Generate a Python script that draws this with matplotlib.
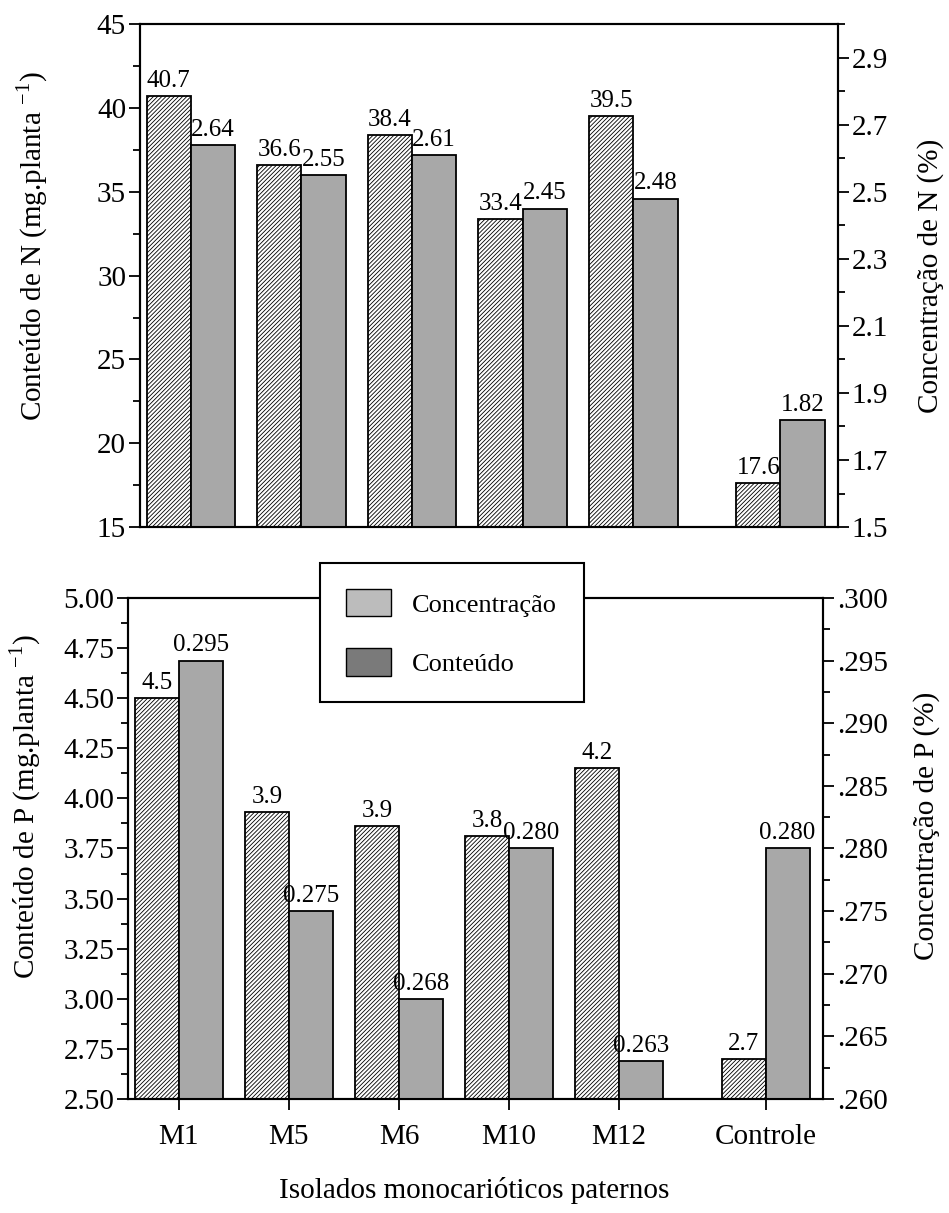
import matplotlib
matplotlib.use('Agg')
import matplotlib.pyplot as plt
from matplotlib.ticker import FixedLocator, FuncFormatter
from matplotlib.patches import Patch

plt.rcParams['font.family'] = ['Liberation Serif', 'DejaVu Serif']
plt.rcParams['mathtext.fontset'] = 'stix'
plt.rcParams['hatch.linewidth'] = 0.6

# ---------------- data ----------------
categories = ['M1', 'M5', 'M6', 'M10', 'M12', 'Controle']
x_pos = [0, 1, 2, 3, 4, 5.33]

n_content = [40.7, 36.6, 38.4, 33.4, 39.5, 17.6]          # mg/planta (left axis)
n_content_labels = ['40.7', '36.6', '38.4', '33.4', '39.5', '17.6']
n_conc = [2.64, 2.55, 2.61, 2.45, 2.48, 1.82]             # % (right axis)
n_conc_labels = ['2.64', '2.55', '2.61', '2.45', '2.48', '1.82']

p_content = [4.50, 3.93, 3.86, 3.81, 4.15, 2.70]          # mg/planta (left axis)
p_content_labels = ['4.5', '3.9', '3.9', '3.8', '4.2', '2.7']
p_conc = [0.295, 0.275, 0.268, 0.280, 0.263, 0.280]       # % (right axis)
p_conc_labels = ['0.295', '0.275', '0.268', '0.280', '0.263', '0.280']

n_left_ticks = [15, 20, 25, 30, 35, 40, 45]
n_right_ticks = [1.5, 1.7, 1.9, 2.1, 2.3, 2.5, 2.7, 2.9]
p_left_ticks = [2.50, 2.75, 3.00, 3.25, 3.50, 3.75, 4.00, 4.25, 4.50, 4.75, 5.00]
p_right_ticks = [0.260, 0.265, 0.270, 0.275, 0.280, 0.285, 0.290, 0.295, 0.300]

legend_labels = ['Concentração', 'Conteúdo']
xlabel = 'Isolados monocarióticos paternos'

# ---------------- style ----------------
BW = 0.4
GRAY = '#a8a8a8'
TICK_FS = 21
LAB_FS = 21
VAL_FS = 18

fig = plt.figure(figsize=(9.49, 12.13), dpi=100)


def style_axis(ax):
    ax.tick_params(axis='y', which='major', direction='out', length=8, width=1.3,
                   labelsize=TICK_FS, pad=2)
    ax.tick_params(axis='y', which='minor', direction='out', length=5, width=1.3)
    for s in ax.spines.values():
        s.set_linewidth(1.5)


def panel(rect, lvals, llabels, lylim, lticks, lfmt, rvals, rlabels, rylim, rticks, rfmt,
          left_label, right_label, lcoords, rcoords, show_x):
    ax = fig.add_axes(rect)
    axr = ax.twinx()
    xs_h = [x - BW / 2 for x in x_pos]
    xs_g = [x + BW / 2 for x in x_pos]
    ax.bar(xs_h, [v - lylim[0] for v in lvals], bottom=lylim[0], width=BW,
           facecolor='white', edgecolor='black', hatch='////////', linewidth=1.3, zorder=2)
    axr.bar(xs_g, [v - rylim[0] for v in rvals], bottom=rylim[0], width=BW,
            facecolor=GRAY, edgecolor='black', linewidth=1.3, zorder=2)
    for x, v, t in zip(xs_h, lvals, llabels):
        ax.annotate(t, (x, v), xytext=(0, 3), textcoords='offset points',
                    ha='center', va='bottom', fontsize=VAL_FS)
    for x, v, t in zip(xs_g, rvals, rlabels):
        axr.annotate(t, (x, v), xytext=(0, 3), textcoords='offset points',
                     ha='center', va='bottom', fontsize=VAL_FS, annotation_clip=False)
    ax.set_xlim(-0.46, 5.85)
    ax.set_ylim(*lylim)
    axr.set_ylim(*rylim)
    lstep = lticks[1] - lticks[0]
    rstep = rticks[1] - rticks[0]
    ax.yaxis.set_major_locator(FixedLocator(lticks))
    ax.yaxis.set_minor_locator(FixedLocator([t + lstep / 2 for t in lticks[:-1]]))
    ax.yaxis.set_major_formatter(FuncFormatter(lfmt))
    rminor = [t + rstep / 2 for t in rticks if t + rstep / 2 < rylim[1] + 1e-9]
    axr.yaxis.set_major_locator(FixedLocator(rticks))
    axr.yaxis.set_minor_locator(FixedLocator(rminor))
    axr.yaxis.set_major_formatter(FuncFormatter(rfmt))
    style_axis(ax)
    style_axis(axr)
    ax.set_ylabel(left_label, fontsize=LAB_FS)
    axr.set_ylabel(right_label, fontsize=LAB_FS)
    ax.yaxis.set_label_coords(*lcoords)
    axr.yaxis.set_label_coords(*rcoords)
    if show_x:
        ax.set_xticks(x_pos)
        ax.set_xticklabels(categories, fontsize=TICK_FS)
        ax.tick_params(axis='x', direction='out', length=8, width=1.3, pad=10)
    else:
        ax.set_xticks([])
    return ax, axr


# Top panel: nitrogen
panel([0.1475, 0.5655, 0.7355, 0.4145],
      n_content, n_content_labels, (15, 45), n_left_ticks, lambda v, p: f'{v:.0f}',
      n_conc, n_conc_labels, (1.5, 3.0), n_right_ticks, lambda v, p: f'{v:.1f}',
      'Conteúdo de N (mg.planta $^{\\mathregular{-1}}$)', 'Concentração de N (%)',
      (-0.129, 0.56), (1.113, 0.5), False)

# Bottom panel: phosphorus
panel([0.135, 0.094, 0.732, 0.413],
      p_content, p_content_labels, (2.5, 5.0), p_left_ticks, lambda v, p: f'{v:.2f}',
      p_conc, p_conc_labels, (0.26, 0.30), p_right_ticks, lambda v, p: f'{v:.3f}'[1:],
      'Conteúdo de P (mg.planta $^{\\mathregular{-1}}$)', 'Concentração de P (%)',
      (-0.122, 0.585), (1.13, 0.545), True)

fig.text(0.5, 1 - 1190 / 1213, xlabel, ha='center', va='center', fontsize=TICK_FS)

handles = [Patch(facecolor='#bcbcbc', edgecolor='black', linewidth=1.0),
           Patch(facecolor='#7a7a7a', edgecolor='black', linewidth=1.0)]
leg = fig.legend(handles, legend_labels, loc='upper left',
                 bbox_to_anchor=(320 / 949, 1 - 563 / 1213), borderaxespad=0,
                 fontsize=19, frameon=True, fancybox=False, framealpha=1,
                 edgecolor='black', borderpad=1.0, handlelength=1.7, handleheight=1.2,
                 handletextpad=0.8, labelspacing=1.2)
leg.get_frame().set_linewidth(1.5)

fig.savefig('out.png', dpi=100)
